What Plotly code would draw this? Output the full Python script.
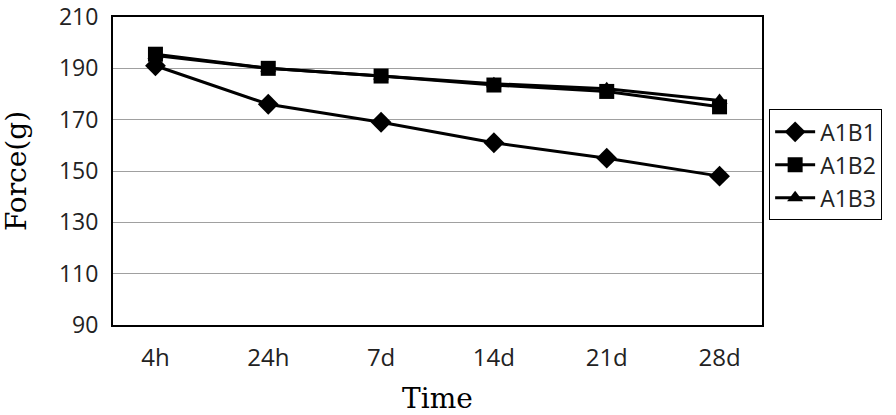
import plotly.graph_objects as go

times = ["4h", "24h", "7d", "14d", "21d", "28d"]
a1b1 = [191, 176, 169, 161, 155, 148]
a1b2 = [195.5, 190, 187, 183.5, 181, 175]
a1b3 = [195, 190, 187, 184, 182, 177.5]
y_ticks = [90, 110, 130, 150, 170, 190, 210]

series = [("A1B1", a1b1, "diamond", 16), ("A1B2", a1b2, "square", 15), ("A1B3", a1b3, "triangle-up", 14)]

fig = go.Figure()
for name, vals, sym, size in series:
    fig.add_trace(go.Scatter(x=times, y=vals, mode="lines+markers", name=name, legendgroup=name,
                             line=dict(color="black", width=3),
                             marker=dict(symbol=sym, size=size, color="black")))

title_font = dict(family="DejaVu Serif, serif", size=28, color="black")
fig.update_layout(
    width=896, height=415,
    margin=dict(l=113, r=134, t=17, b=90),
    paper_bgcolor="white", plot_bgcolor="white",
    font=dict(family="Open Sans, sans-serif", color="#222", size=22),
    legend=dict(x=1.011, y=0.70, xanchor="left", yanchor="top",
                bordercolor="black", borderwidth=1, font=dict(size=23),
                tracegroupgap=0, itemwidth=40),
)
fig.update_xaxes(showline=True, linecolor="black", linewidth=2, mirror=True, automargin=False,
                 showgrid=False, ticks="", tickfont=dict(size=24), ticklabelstandoff=10,
                 title=dict(text="Time", font=title_font, standoff=37))
fig.update_yaxes(range=[90, 210], tickvals=y_ticks, showline=True, linecolor="black", linewidth=2, mirror=True,
                 automargin=False,
                 showgrid=True, gridcolor="#a0a0a0", gridwidth=1, ticks="", tickfont=dict(size=23),
                 ticklabelstandoff=8, ticklabeloverflow="allow",
                 title=dict(text="Force(g)", font=title_font, standoff=24))

# drop the browser's default 8px body margin so the figure sits at the window corner
fig.write_html("out.html", config={"displayModeBar": False},
               post_script="document.body.style.margin='0';")
